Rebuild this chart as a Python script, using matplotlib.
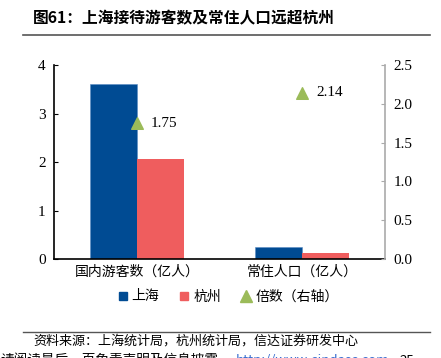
import matplotlib.pyplot as plt
from matplotlib.lines import Line2D

plt.rcParams['font.family'] = ['Noto Sans CJK SC', 'DejaVu Sans']

categories = ['国内游客数（亿人）', '常住人口（亿人）']
shanghai = [3.61, 0.25]
hangzhou = [2.06, 0.117]
ratio = [1.75, 2.14]
ratio_labels = ['1.75', '2.14']
left_ticks = [0, 1, 2, 3, 4]
right_ticks = [0.0, 0.5, 1.0, 1.5, 2.0, 2.5]

blue = '#004B93'
red = '#EF5D5E'
green = '#9BBB59'
serif = ['Liberation Serif', 'DejaVu Serif']

fig = plt.figure(figsize=(4.41, 3.58), dpi=100)
ax = fig.add_axes([0.1224, 0.2765, 0.7506, 0.5419])
ax2 = ax.twinx()

x = [0, 1]
w = 0.285
ax.bar([i - w / 2 for i in x], shanghai, w, color=blue, edgecolor='#5b8cc4', linewidth=0.4, zorder=2)
ax.bar([i + w / 2 for i in x], hangzhou, w, color=red, zorder=2)
ax.set_xlim(-0.503, 1.503)
ax.set_ylim(0, 4)
ax.set_yticks(left_ticks)
ax.set_yticklabels([str(t) for t in left_ticks], family=serif, fontsize=11)
ax.set_xticks(x)
ax.set_xticklabels(categories, fontsize=10)
ax.tick_params(axis='x', length=0, pad=4)
ax.tick_params(axis='y', direction='in', length=3, pad=6)
for s in ['top', 'right']:
    ax.spines[s].set_visible(False)
ax.spines['left'].set_linewidth(1.2)
ax.spines['bottom'].set_linewidth(1.2)

ax2.scatter(x, ratio, marker='^', s=70, color=green, zorder=3)
for xi, r, lab in zip(x, ratio, ratio_labels):
    ax2.annotate(lab, (xi, r), xytext=(10, 0), textcoords='offset points',
                 va='center', ha='left', family=serif, fontsize=11)
ax2.set_ylim(0, 2.5)
ax2.set_yticks(right_ticks)
ax2.set_yticklabels(['%.1f' % t for t in right_ticks], family=serif, fontsize=11)
ax2.tick_params(axis='y', direction='in', length=3, pad=6, color='#aaaaaa')
for s in ['top', 'left', 'bottom']:
    ax2.spines[s].set_visible(False)
ax2.spines['right'].set_color('#aaaaaa')
ax2.spines['right'].set_linewidth(1.2)

handles = [
    Line2D([], [], marker='s', linestyle='', color=blue, markersize=6),
    Line2D([], [], marker='s', linestyle='', color=red, markersize=6),
    Line2D([], [], marker='^', linestyle='', color=green, markersize=8),
]
fig.legend(handles, ['上海', '杭州', '倍数（右轴）'], loc='center', bbox_to_anchor=(0.515, 0.172),
           ncol=3, frameon=False, fontsize=10, handletextpad=0.15, columnspacing=1.3,
           handlelength=1.0)

# title and footnotes
fig.text(0.075, 0.948, '图61：上海接待游客数及常住人口远超杭州', fontsize=11.3, fontweight='bold',
         va='center', ha='left')
fig.add_artist(Line2D([0.052, 0.975], [0.902, 0.902], color='#555555', linewidth=1.2))
fig.add_artist(Line2D([0.052, 0.975], [0.073, 0.073], color='#555555', linewidth=1.0))
fig.text(0.075, 0.048, '资料来源：上海统计局，杭州统计局，信达证券研发中心', fontsize=9.4,
         va='center', ha='left')
fig.text(0.0, -0.008, '请阅读最后一页免责声明及信息披露', fontsize=9.8, va='center', ha='left')
fig.text(0.535, -0.008, 'http://www.cindasc.com', fontsize=9.5, va='center', ha='left', color='#3b6fd0')
fig.text(0.905, -0.008, '25', fontsize=9.5, va='center', ha='left')

fig.savefig('out.png', dpi=100)
